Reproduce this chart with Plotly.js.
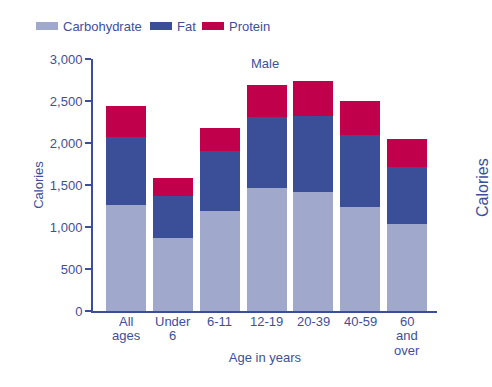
<!DOCTYPE html>
<html>
<head>
<meta charset="utf-8">
<script src="https://cdn.plot.ly/plotly-3.0.1.min.js"></script>
<style>html,body{margin:0;padding:0;background:#fff;}#chart{width:492px;height:387px;}</style>
</head>
<body>
<div id="chart"></div>
<script>
const categories = ["All ages", "Under 6", "6-11", "12-19", "20-39", "40-59", "60 and over"];
const categoryLines = [["All", "ages"], ["Under", "6"], ["6-11"], ["12-19"], ["20-39"], ["40-59"], ["60", "and", "over"]];
const carbohydrate = [1260, 870, 1190, 1460, 1420, 1235, 1035];
const fat = [810, 505, 715, 855, 905, 865, 675];
const protein = [370, 205, 275, 375, 415, 405, 335];
const yTicks = [0, 500, 1000, 1500, 2000, 2500, 3000];
const yTickLabels = ["0", "500", "1,000", "1,500", "2,000", "2,500", "3,000"];

const txt = "#3d4f9b";
const colors = {carb: "#a0a9cc", fat: "#3a4f98", protein: "#c1004b"};
const font = {family: "Liberation Sans, Arial, sans-serif", size: 13, color: txt};

const traces = [
  {type: "bar", name: "Carbohydrate", x: categories, y: carbohydrate, marker: {color: colors.carb}},
  {type: "bar", name: "Fat", x: categories, y: fat, marker: {color: colors.fat}},
  {type: "bar", name: "Protein", x: categories, y: protein, marker: {color: colors.protein}}
];

const L = 93, T = 59, PW = 344, PH = 252;
const px = x => (x - L) / PW;
const py = y => (T + PH - y) / PH;

const legendItems = [
  {name: "Carbohydrate", color: colors.carb, x0: 36, x1: 58},
  {name: "Fat", color: colors.fat, x0: 150, x1: 172},
  {name: "Protein", color: colors.protein, x0: 202, x1: 224}
];
const shapes = [];
const annotations = [];
legendItems.forEach(it => {
  shapes.push({type: "rect", xref: "paper", yref: "paper", layer: "above",
    x0: px(it.x0), x1: px(it.x1), y0: py(30), y1: py(22),
    fillcolor: it.color, line: {width: 0}});
  annotations.push({xref: "paper", yref: "paper", x: px(it.x1 + 4), y: py(26),
    xanchor: "left", yanchor: "middle", text: it.name, showarrow: false, borderpad: 0, font: font});
});
categoryLines.forEach((lines, i) => {
  lines.forEach((ln, j) => {
    annotations.push({xref: "x", yref: "paper", x: categories[i], y: py(321 + 14.6 * j),
      xanchor: "center", yanchor: "middle", text: ln, showarrow: false,
      borderpad: 0, font: font});
  });
});
annotations.push({xref: "paper", yref: "paper", x: px(265), y: py(63),
  xanchor: "center", yanchor: "middle", text: "Male", showarrow: false, borderpad: 0, font: font});
annotations.push({xref: "paper", yref: "paper", x: px(482), y: py(188),
  xanchor: "center", yanchor: "middle", text: "Calories", textangle: -90, showarrow: false, borderpad: 0,
  font: {family: font.family, size: 16, color: txt}});

const layout = {
  width: 492, height: 387,
  margin: {l: L, r: 492 - L - PW, t: T, b: 387 - T - PH},
  paper_bgcolor: "#fff", plot_bgcolor: "#fff",
  barmode: "stack", bargap: 0.145,
  showlegend: false,
  font: font,
  xaxis: {
    type: "category", range: [-0.705, 6.64],
    showline: true, linecolor: "#3a4f98", linewidth: 2,
    ticks: "", showgrid: false, zeroline: false, showticklabels: false,
    title: {text: "Age in years", font: font, standoff: 41}
  },
  yaxis: {
    range: [0, 3000], tickvals: yTicks, ticktext: yTickLabels,
    showline: true, linecolor: "#3a4f98", linewidth: 2,
    ticks: "outside", ticklen: 6, tickwidth: 2, tickcolor: "#3a4f98",
    showgrid: false, zeroline: false, tickfont: font,
    title: {text: "Calories", font: font, standoff: 3}
  },
  shapes: shapes,
  annotations: annotations
};

Plotly.newPlot("chart", traces, layout, {displayModeBar: false, staticPlot: true});
</script>
</body>
</html>
